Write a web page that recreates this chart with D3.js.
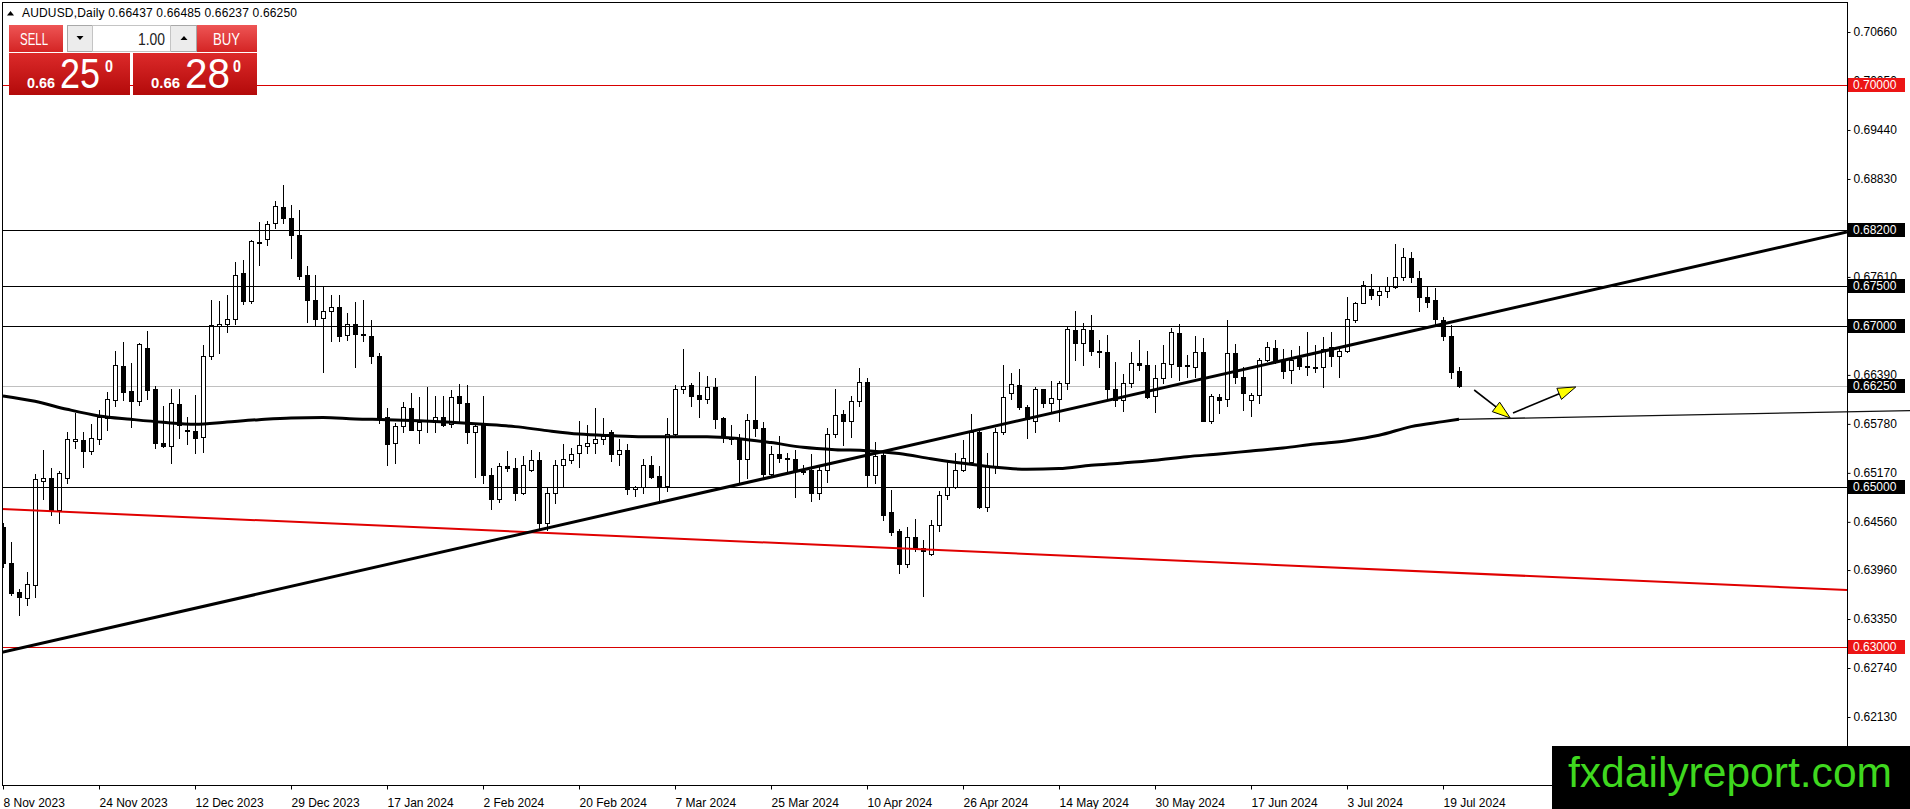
<!DOCTYPE html>
<html>
<head>
<meta charset="utf-8">
<script src="https://cdn.jsdelivr.net/npm/d3@7.9.0/dist/d3.min.js"></script>
<style>
  html, body { margin: 0; padding: 0; background: #fff; overflow: hidden; }
  svg { display: block; font-family: "Liberation Sans", Arial, sans-serif; }
</style>
</head>
<body>
<svg id="chart" width="1910" height="809"></svg>
<script>
// AUDUSD daily bars, 8 Nov 2023 .. 23 Jul 2024
const opens = [
  .6450,.6405,.6369,.6361,.6377,.6507,.6510,.6471,.6510,.6557,
  .6558,.6544,.6559,.6585,.6608,.6650,.6619,.6607,.6673,.6621,
  .6554,.6550,.6603,.6570,.6569,.6562,.6663,.6700,.6703,.6708,
  .6766,.6731,.6804,.6808,.6828,.6848,.6834,.6813,.6763,.6732,
  .6710,.6719,.6723,.6689,.6702,.6690,.6688,.6663,.6586,.6554,
  .6575,.6598,.6571,.6582,.6580,.6586,.6578,.6613,.6604,.6568,
  .6577,.6514,.6485,.6526,.6523,.6492,.6521,.6533,.6455,.6492,
  .6527,.6533,.6542,.6551,.6554,.6559,.6568,.6541,.6546,.6497,
  .6499,.6527,.6513,.6501,.6566,.6622,.6627,.6614,.6609,.6624,
  .6585,.6562,.6559,.6534,.6583,.6573,.6516,.6541,.6536,.6534,
  .6519,.6521,.6492,.6521,.6566,.6590,.6581,.6607,.6630,.6514,
  .6539,.6468,.6444,.6404,.6437,.6423,.6416,.6452,.6490,.6500,
  .6521,.6531,.6568,.6474,.6526,.6568,.6616,.6627,.6599,.6581,
  .6621,.6604,.6609,.6629,.6695,.6679,.6695,.6669,.6667,.6621,
  .6608,.6629,.6654,.6651,.6613,.6635,.6653,.6691,.6651,.6649,
  .6668,.6582,.6611,.6609,.6666,.6637,.6608,.6614,.6658,.6673,
  .6658,.6645,.6660,.6650,.6649,.6649,.6674,.6662,.6669,.6707,
  .6729,.6746,.6739,.6743,.6749,.6761,.6784,.6760,.6736,.6732,
  .6707,.6688,.66437
];
const highs = [
  .6454,.6431,.6373,.6394,.6516,.6546,.6523,.6519,.6568,.6591,
  .6568,.6578,.6595,.6618,.6669,.6680,.6654,.6679,.6694,.6625,
  .6600,.6622,.6622,.6586,.6614,.6676,.6732,.6731,.6739,.6779,
  .6782,.6807,.6829,.6831,.6856,.6875,.6851,.6844,.6774,.6763,
  .6750,.6739,.6739,.6716,.6730,.6732,.6707,.6666,.6598,.6579,
  .6605,.6616,.6612,.6624,.6613,.6613,.6620,.6628,.6627,.6579,
  .6613,.6523,.6529,.6544,.6535,.6538,.6546,.6543,.6500,.6533,
  .6553,.6548,.6582,.6577,.6598,.6585,.6570,.6559,.6553,.6501,
  .6534,.6538,.6525,.6585,.6627,.6671,.6629,.6643,.6638,.6635,
  .6586,.6577,.6566,.6590,.6638,.6580,.6551,.6563,.6542,.6545,
  .6527,.6541,.6527,.6573,.6622,.6595,.6613,.6647,.6635,.6556,
  .6545,.6496,.6447,.6449,.6459,.6433,.6458,.6494,.6531,.6542,
  .6558,.6590,.6570,.6542,.6573,.6651,.6641,.6646,.6602,.6624,
  .6622,.6632,.6632,.6699,.6718,.6704,.6713,.6683,.6689,.6655,
  .6640,.6667,.6683,.6669,.6651,.6676,.6698,.6703,.6664,.6688,
  .6685,.6615,.6615,.6707,.6678,.6649,.6617,.6660,.6680,.6683,
  .6671,.6670,.6675,.6692,.6676,.6686,.6692,.6672,.6736,.6730,
  .6756,.6765,.6749,.6761,.6802,.6797,.6792,.6768,.6748,.6747,
  .6711,.6701,.66485
];
const lows = [
  .6400,.6365,.6340,.6353,.6363,.6485,.6465,.6455,.6504,.6548,
  .6524,.6541,.6553,.6570,.6600,.6608,.6574,.6602,.6609,.6548,
  .6549,.6529,.6561,.6553,.6542,.6543,.6659,.6666,.6693,.6703,
  .6727,.6728,.6776,.6801,.6822,.6828,.6784,.6759,.6705,.6700,
  .6643,.6681,.6681,.6682,.6649,.6681,.6654,.6579,.6527,.6529,
  .6568,.6570,.6554,.6568,.6568,.6575,.6574,.6579,.6554,.6512,
  .6505,.6472,.6481,.6519,.6483,.6491,.6519,.6447,.6446,.6480,
  .6499,.6529,.6524,.6542,.6542,.6553,.6532,.6527,.6491,.6488,
  .6492,.6510,.6480,.6495,.6562,.6617,.6600,.6587,.6604,.6573,
  .6555,.6553,.6506,.6510,.6563,.6512,.6513,.6531,.6517,.6487,
  .6516,.6482,.6485,.6506,.6562,.6552,.6562,.6600,.6501,.6505,
  .6458,.6440,.6392,.6400,.6420,.6364,.6415,.6445,.6485,.6498,
  .6519,.6529,.6473,.6469,.6517,.6565,.6609,.6596,.6560,.6568,
  .6599,.6592,.6582,.6622,.6657,.6651,.6664,.6649,.6610,.6600,
  .6594,.6624,.6645,.6610,.6593,.6629,.6637,.6633,.6637,.6637,
  .6581,.6579,.6591,.6600,.6629,.6595,.6588,.6604,.6656,.6654,
  .6635,.6629,.6646,.6639,.6642,.6624,.6650,.6636,.6667,.6705,
  .6729,.6734,.6726,.6736,.6747,.6757,.6755,.6718,.6724,.6701,
  .6683,.6635,.66237
];
const closes = [
  .6405,.6367,.6362,.6378,.6509,.6510,.6471,.6517,.6559,.6559,
  .6544,.6560,.6586,.6609,.6651,.6618,.6606,.6678,.6620,.6554,
  .6550,.6604,.6577,.6569,.6561,.6663,.6701,.6703,.6708,.6764,
  .6731,.6806,.6803,.6827,.6849,.6834,.6813,.6762,.6732,.6708,
  .6719,.6723,.6688,.6702,.6690,.6689,.6662,.6584,.6553,.6575,
  .6599,.6571,.6580,.6583,.6586,.6577,.6612,.6604,.6568,.6575,
  .6514,.6485,.6526,.6523,.6492,.6527,.6533,.6455,.6492,.6527,
  .6534,.6541,.6552,.6554,.6559,.6563,.6541,.6546,.6497,.6499,
  .6527,.6512,.6501,.6566,.6622,.6625,.6613,.6609,.6624,.6584,
  .6562,.6559,.6534,.6583,.6573,.6516,.6541,.6535,.6534,.6519,
  .6518,.6492,.6521,.6566,.6589,.6581,.6607,.6630,.6514,.6538,
  .6465,.6443,.6404,.6437,.6423,.6420,.6452,.6490,.6500,.6521,
  .6535,.6568,.6474,.6526,.6568,.6612,.6628,.6599,.6584,.6621,
  .6604,.6610,.6629,.6696,.6679,.6696,.6669,.6668,.6621,.6608,
  .6629,.6654,.6651,.6612,.6635,.6654,.6692,.6650,.6650,.6668,
  .6582,.6613,.6608,.6666,.6637,.6617,.6614,.6658,.6674,.6658,
  .6644,.6658,.6650,.6649,.6648,.6671,.6662,.6669,.6708,.6728,
  .6751,.6739,.6743,.6750,.6761,.6786,.6761,.6736,.6730,.6708,
  .6687,.6643,.66250
];

// moving average, sampled along the bars
const maIdx = [0,4,8,12,16,20,24,28,32,36,40,44,48,52,56,60,64,68,72,76,80,84,88,92,
  96,100,104,108,112,116,120,124,128,132,136,140,144,148,152,156,160,164,168,172,176,180,182];
const maVal = [.66128,.66061,.65962,.65879,.65837,.65800,.65775,.65804,.65833,.65854,.65858,.65841,
  .65833,.65820,.65800,.65775,.65746,.65696,.65654,.65634,.65621,.65621,.65621,.65596,
  .65547,.65488,.65459,.65447,.65410,.65347,.65289,.65239,.65214,.65223,.65264,.65293,
  .65327,.65372,.65405,.65443,.65480,.65530,.65571,.65638,.65746,.65808,.65837];

// price axis
const priceTicks = [.7066,.7005,.6944,.6883,.6822,.6761,.6700,.6639,.6578,.6517,.6456,.6396,.6335,.6274,.6213];
const blackLevels = [.682, .675, .670, .650];
const redLevels = [.700, .630];
const bidPrice = .6625;

// time axis
const dateLabels = ['8 Nov 2023','24 Nov 2023','12 Dec 2023','29 Dec 2023','17 Jan 2024','2 Feb 2024',
  '20 Feb 2024','7 Mar 2024','25 Mar 2024','10 Apr 2024','26 Apr 2024','14 May 2024','30 May 2024',
  '17 Jun 2024','3 Jul 2024','19 Jul 2024'];
const dateIdx = [0,12,24,36,48,60,72,84,96,108,120,132,144,156,168,180];

// drawn objects: [bar index, price]
const trendUp = [[-0.125, .62937], [230.5, .68170]];
const trendRed = [[-0.125, .64720], [230.5, .63712]];
const maExtend = [[182, .65837], [238.5, .65945]];
const arrowFrom = [[183.9, .66202], [188.75, .65916]];
const arrowTo = [[188.4, .65854], [196.6, .66240]];

const svg = d3.select('#chart');
const axisX = 1847, axisY = 785;

const x = d3.scaleLinear().domain([0, 230.5]).range([3, axisX]);
const y = d3.scaleLinear().domain([priceTicks[priceTicks.length - 1], priceTicks[0]]).range([717, 32]);
const crisp = v => Math.round(v) + 0.5;

const defs = svg.append('defs');
defs.append('clipPath').attr('id', 'plotClip')
  .append('rect').attr('x', 2.5).attr('y', 2.5).attr('width', axisX - 2.5).attr('height', axisY - 2.5);

function grad(id, c0, c1) {
  const lg = defs.append('linearGradient').attr('id', id).attr('x1', 0).attr('y1', 0).attr('x2', 0).attr('y2', 1);
  lg.append('stop').attr('offset', '0%').attr('stop-color', c0);
  lg.append('stop').attr('offset', '100%').attr('stop-color', c1);
}
grad('btnRed', '#ee5555', '#d42424');
grad('panelRed', '#dc2a2a', '#b30a0a');

const plot = svg.append('g').attr('clip-path', 'url(#plotClip)');

// bid line
plot.append('line')
  .attr('x1', 2).attr('x2', axisX)
  .attr('y1', crisp(y(bidPrice))).attr('y2', crisp(y(bidPrice)))
  .attr('stroke', '#c0c0c0');

// candles
const bars = opens.map((o, i) => ({ i, o, h: highs[i], l: lows[i], c: closes[i] }));
const cg = plot.append('g');
bars.forEach(d => {
  const cx = Math.round(x(d.i));
  cg.append('line')
    .attr('x1', cx + 0.5).attr('x2', cx + 0.5)
    .attr('y1', Math.round(y(d.h))).attr('y2', Math.round(y(d.l)) + 1)
    .attr('stroke', '#000');
  const yo = Math.round(y(d.o)), yc = Math.round(y(d.c));
  const top = Math.min(yo, yc), hgt = Math.abs(yo - yc);
  if (hgt < 1) {
    cg.append('line').attr('x1', cx - 2).attr('x2', cx + 3)
      .attr('y1', top + 0.5).attr('y2', top + 0.5).attr('stroke', '#000');
  } else if (d.c < d.o) {
    cg.append('rect').attr('x', cx - 2).attr('y', top).attr('width', 5).attr('height', hgt + 1).attr('fill', '#000');
  } else {
    cg.append('rect').attr('x', cx - 1.5).attr('y', top + 0.5).attr('width', 4).attr('height', hgt)
      .attr('fill', '#fff').attr('stroke', '#000');
  }
});

// moving average
const maLine = d3.line().x(d => x(d[0])).y(d => y(d[1])).curve(d3.curveMonotoneX);
plot.append('path')
  .attr('d', maLine(maIdx.map((v, k) => [v, maVal[k]])))
  .attr('fill', 'none').attr('stroke', '#000').attr('stroke-width', 3);

// horizontal levels
plot.selectAll('line.lvl-black').data(blackLevels).join('line')
  .attr('class', 'lvl-black')
  .attr('x1', 2).attr('x2', axisX)
  .attr('y1', d => crisp(y(d))).attr('y2', d => crisp(y(d)))
  .attr('stroke', '#000');
plot.selectAll('line.lvl-red').data(redLevels).join('line')
  .attr('class', 'lvl-red')
  .attr('x1', 2).attr('x2', axisX)
  .attr('y1', d => crisp(y(d))).attr('y2', d => crisp(y(d)))
  .attr('stroke', '#d80000');

// trend lines
const seg = d3.line().x(d => x(d[0])).y(d => y(d[1]));
plot.append('path').attr('d', seg(trendRed)).attr('fill', 'none').attr('stroke', '#e00000').attr('stroke-width', 2);
plot.append('path').attr('d', seg(trendUp)).attr('fill', 'none').attr('stroke', '#000').attr('stroke-width', 3);

// extension from the MA end (runs over the price scale)
svg.append('path').attr('d', seg(maExtend)).attr('fill', 'none').attr('stroke', '#111').attr('stroke-width', 1.3);

// arrows
arrowFrom.forEach((a, k) => {
  const b = arrowTo[k];
  const x0 = x(a[0]), y0 = y(a[1]), x1 = x(b[0]), y1 = y(b[1]);
  const ang = Math.atan2(y1 - y0, x1 - x0);
  const L = 18, hw = 6;
  const bx = x1 - L * Math.cos(ang), by = y1 - L * Math.sin(ang);
  plot.append('line').attr('x1', x0).attr('y1', y0).attr('x2', bx).attr('y2', by)
    .attr('stroke', '#000').attr('stroke-width', 1.6);
  plot.append('path')
    .attr('d', `M${x1},${y1}L${bx + hw * Math.sin(ang)},${by - hw * Math.cos(ang)}L${bx - hw * Math.sin(ang)},${by + hw * Math.cos(ang)}Z`)
    .attr('fill', '#ffff00').attr('stroke', '#000').attr('stroke-width', 1);
});

// frame
svg.append('line').attr('x1', 2.5).attr('x2', 2.5).attr('y1', 2).attr('y2', axisY + 1).attr('stroke', '#000');
svg.append('line').attr('x1', 2).attr('x2', axisX + 1).attr('y1', 2.5).attr('y2', 2.5).attr('stroke', '#000');
svg.append('line').attr('x1', 2).attr('x2', axisX + 1).attr('y1', axisY + 0.5).attr('y2', axisY + 0.5).attr('stroke', '#000');
svg.append('line').attr('x1', axisX + 0.5).attr('x2', axisX + 0.5).attr('y1', 2).attr('y2', 809).attr('stroke', '#000');

// level labels on the price scale
const tags = [
  ...blackLevels.map(v => ({ v, bg: '#000' })),
  { v: bidPrice, bg: '#000' },
  ...redLevels.map(v => ({ v, bg: '#ec1515' }))
];

// price axis (ticks that sit fully under a level tag are not visible, so skip their text)
const covered = v => tags.some(t => Math.abs(y(t.v) - y(v)) < 3);
const yAxis = svg.append('g').attr('transform', `translate(${axisX + 0.5},0)`)
  .call(d3.axisRight(y).tickValues(priceTicks)
    .tickFormat(v => covered(v) ? '' : d3.format('.5f')(v)).tickSize(3).tickPadding(3));
yAxis.select('.domain').remove();
yAxis.selectAll('text').attr('font-size', 12).attr('fill', '#000').attr('font-family', '"Liberation Sans", Arial, sans-serif');
yAxis.selectAll('line').attr('stroke', '#000');

const tagG = svg.append('g');
tags.forEach(t => {
  const yy = Math.round(y(t.v));
  tagG.append('rect').attr('x', axisX + 1).attr('y', yy - 7).attr('width', 57).attr('height', 14).attr('fill', t.bg);
  tagG.append('text').attr('x', axisX + 6).attr('y', yy).attr('dy', '0.35em')
    .attr('font-size', 12).attr('fill', '#fff').text(d3.format('.5f')(t.v));
});

// time axis
const xAxis = svg.append('g').attr('transform', `translate(0,${axisY + 0.5})`)
  .call(d3.axisBottom(x).tickValues(dateIdx).tickFormat((d, k) => dateLabels[k]).tickSize(4).tickPadding(9));
xAxis.select('.domain').remove();
xAxis.selectAll('line').attr('stroke', '#000');
xAxis.selectAll('text').attr('text-anchor', 'start').attr('x', 0).attr('font-size', 12).attr('fill', '#000')
  .attr('font-family', '"Liberation Sans", Arial, sans-serif');

// header
svg.append('path').attr('d', 'M7,15.5L14,15.5L10.5,11Z').attr('fill', '#000');
const last = bars[bars.length - 1];
const f5 = d3.format('.5f');
svg.append('text').attr('x', 22).attr('y', 17).attr('font-size', 12).attr('fill', '#000')
  .attr('textLength', 275).attr('lengthAdjust', 'spacing')
  .text(`AUDUSD,Daily ${f5(last.o)} ${f5(last.h)} ${f5(last.l)} ${f5(last.c)}`);

// one-click trading panel
const panel = svg.append('g');
panel.append('rect').attr('x', 9).attr('y', 53).attr('width', 121).attr('height', 42).attr('fill', 'url(#panelRed)');
panel.append('rect').attr('x', 133).attr('y', 53).attr('width', 124).attr('height', 42).attr('fill', 'url(#panelRed)');
panel.append('rect').attr('x', 9).attr('y', 25).attr('width', 54).attr('height', 27).attr('fill', 'url(#btnRed)');
panel.append('rect').attr('x', 197).attr('y', 25).attr('width', 60).attr('height', 27).attr('fill', 'url(#btnRed)');
panel.append('rect').attr('x', 67.5).attr('y', 25.5).attr('width', 129).attr('height', 26)
  .attr('fill', '#ececec').attr('stroke', '#a8a8a8');
panel.append('rect').attr('x', 92.5).attr('y', 25.5).attr('width', 78).attr('height', 26)
  .attr('fill', '#fff').attr('stroke', '#c4c4c4');
panel.append('path').attr('d', 'M76.5,36L83.5,36L80,40Z').attr('fill', '#000');
panel.append('path').attr('d', 'M180.5,40L187.5,40L184,36Z').attr('fill', '#000');

function ptxt(tx, ty, size, len, str, weight, fill) {
  panel.append('text').attr('x', tx).attr('y', ty).attr('font-size', size)
    .attr('font-weight', weight || 'normal').attr('fill', fill || '#fff')
    .attr('textLength', len).attr('lengthAdjust', 'spacingAndGlyphs').text(str);
}
ptxt(20, 45, 17, 28, 'SELL');
ptxt(213, 45, 17, 27, 'BUY');
ptxt(138, 45, 16, 27, '1.00', 'normal', '#222');
ptxt(27, 88, 14, 28, '0.66', 'bold');
ptxt(60, 88, 42, 40, '25');
ptxt(105, 72, 17, 8, '0', 'bold');
ptxt(151, 88, 14, 29, '0.66', 'bold');
ptxt(185, 88, 42, 45, '28');
ptxt(233, 72, 17, 8, '0', 'bold');

// watermark
svg.append('rect').attr('x', 1552).attr('y', 746).attr('width', 358).attr('height', 63).attr('fill', '#000');
svg.append('text').attr('x', 1568).attr('y', 787).attr('font-size', 42).attr('fill', '#3fd81f')
  .attr('textLength', 324).attr('lengthAdjust', 'spacingAndGlyphs').text('fxdailyreport.com');
</script>
</body>
</html>
